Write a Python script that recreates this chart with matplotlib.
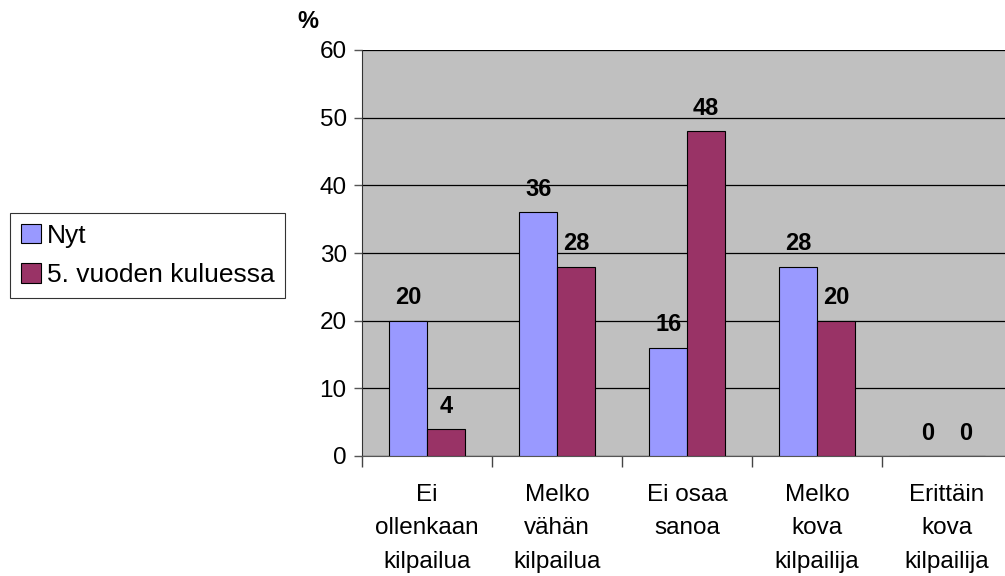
import matplotlib
matplotlib.use("Agg")
import matplotlib.pyplot as plt
import numpy as np

plt.rcParams['font.family'] = ['Liberation Sans', 'DejaVu Sans']

categories = ["Ei\nollenkaan\nkilpailua", "Melko\nvähän\nkilpailua", "Ei osaa\nsanoa",
              "Melko\nkova\nkilpailija", "Erittäin\nkova\nkilpailija"]
nyt = [20, 36, 16, 28, 0]
viisi_vuotta = [4, 28, 48, 20, 0]
series_names = ["Nyt", "5. vuoden kuluessa"]
y_ticks = [0, 10, 20, 30, 40, 50, 60]

fig = plt.figure(figsize=(10.05, 5.76), dpi=100)
ax = fig.add_axes([362 / 1005, 1 - 456 / 576, 650 / 1005, 406 / 576])
ax.set_facecolor("#C0C0C0")

x = np.arange(len(categories))
w = 0.29
b1 = ax.bar(x - w / 2, nyt, w, color="#9999FF", edgecolor="black", linewidth=0.8,
            label=series_names[0], zorder=3)
b2 = ax.bar(x + w / 2, viisi_vuotta, w, color="#993366", edgecolor="black", linewidth=0.8,
            label=series_names[1], zorder=3)

for bars, vals in ((b1, nyt), (b2, viisi_vuotta)):
    for rect, v in zip(bars, vals):
        ax.text(rect.get_x() + rect.get_width() / 2, v + 2.4, f"{v}",
                ha="center", va="baseline", fontsize=17, fontweight="bold", zorder=4)

ax.set_xlim(-0.5, len(categories) - 0.5)
ax.set_ylim(0, 60)
ax.set_yticks(y_ticks)
ax.tick_params(axis="y", labelsize=17.5, length=6, width=1, direction="out", pad=5,
               color="#555555")
ax.yaxis.grid(True, color="black", linewidth=0.9, zorder=1)
ax.set_axisbelow(True)

ax.set_xticks(np.arange(len(categories) + 1) - 0.5)
ax.set_xticklabels([])
ax.tick_params(axis="x", length=8, width=1, direction="out", color="#444444")
for i, lab in enumerate(categories):
    ax.text(i, -4.2, lab, ha="center", va="top", fontsize=17.5, linespacing=1.65,
            transform=ax.transData)

for side in ("top", "right"):
    ax.spines[side].set_visible(False)
ax.spines["left"].set_color("#333333")
ax.spines["bottom"].set_color("#555555")

fig.text(297 / 1005, 1 - 22 / 576, "%", fontsize=17, fontweight="bold", va="center")

handles = [b1, b2]
leg = fig.legend(handles, series_names, loc="upper left",
                 bbox_to_anchor=(10 / 1005, 1 - 213 / 576), fontsize=19,
                 frameon=True, fancybox=False, edgecolor="black",
                 handlelength=0.76, handleheight=0.76, handletextpad=0.23,
                 borderpad=0.4, labelspacing=0.6, borderaxespad=0)
leg.get_frame().set_linewidth(0.8)

fig.savefig("out.png", dpi=100)
